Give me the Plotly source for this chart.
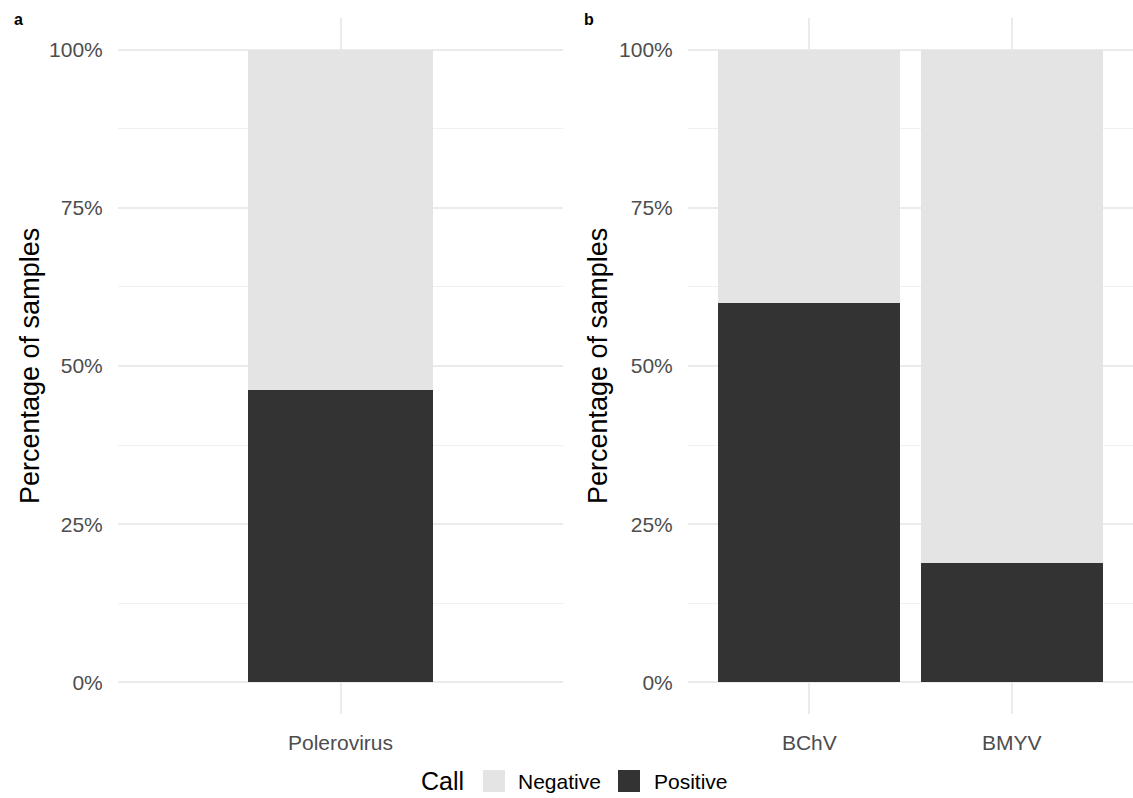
import plotly.graph_objects as go

# Panel a: pooled genus
genus_labels = ["Polerovirus"]
genus_positive = [46.2]

# Panel b: individual viruses
virus_labels = ["BChV", "BMYV"]
virus_positive = [60.0, 18.9]

call_levels = ["Negative", "Positive"]
call_colors = {"Negative": "#e4e4e4", "Positive": "#333333"}
y_ticks = [0, 25, 50, 75, 100]
y_tick_text = ["0%", "25%", "50%", "75%", "100%"]

W, H = 1133, 798
FONT = "Liberation Sans, Arial, sans-serif"
TICK_GREY = "#4d4d4d"
GRID = "#ebebeb"

fig = go.Figure()


def add_panel(labels, positive, xaxis, yaxis, width):
    negative = [100 - p for p in positive]
    fig.add_trace(go.Bar(x=labels, y=positive, name="Positive", width=width,
                         marker=dict(color=call_colors["Positive"], line=dict(width=0)),
                         xaxis=xaxis, yaxis=yaxis, showlegend=False))
    fig.add_trace(go.Bar(x=labels, y=negative, name="Negative", width=width,
                         marker=dict(color=call_colors["Negative"], line=dict(width=0)),
                         xaxis=xaxis, yaxis=yaxis, showlegend=False))


add_panel(genus_labels, genus_positive, "x", "y", 0.5)
add_panel(virus_labels, virus_positive, "x2", "y2", 0.9)

y_dom = [1 - 714 / H, 1 - 18 / H]

yaxis_common = dict(
    range=[-5, 105], tickvals=y_ticks, ticktext=y_tick_text,
    showgrid=True, gridcolor=GRID, gridwidth=2.2, zeroline=False,
    ticks="outside", ticklen=10, tickcolor="rgba(0,0,0,0)",
    tickfont=dict(family=FONT, size=21, color=TICK_GREY),
    minor=dict(tickvals=[12.5, 37.5, 62.5, 87.5], showgrid=True,
               gridcolor="#f0f0f0", gridwidth=1.2, ticks=""),
    showline=False, fixedrange=True,
)
xaxis_common = dict(
    showgrid=True, gridcolor=GRID, gridwidth=2.2, zeroline=False,
    ticks="outside", ticklen=10, tickcolor="rgba(0,0,0,0)",
    tickfont=dict(family=FONT, size=21, color=TICK_GREY),
    showline=False, fixedrange=True, type="category",
)

fig.update_layout(
    width=W, height=H,
    margin=dict(l=0, r=0, t=0, b=0),
    paper_bgcolor="white", plot_bgcolor="white",
    barmode="stack", bargap=0,
    font=dict(family=FONT),
    xaxis=dict(domain=[118 / W, 563 / W], range=[-0.6, 0.6], anchor="y", **xaxis_common),
    yaxis=dict(domain=y_dom, anchor="x", **yaxis_common),
    xaxis2=dict(domain=[688 / W, 1.0], range=[-0.6, 1.6], anchor="y2", **xaxis_common),
    yaxis2=dict(domain=y_dom, anchor="x2", **yaxis_common),
    showlegend=False,
)

annotations = []
# y-axis titles
for xc in (30 / W, 598 / W):
    annotations.append(dict(text="Percentage of samples", x=xc, y=(y_dom[0] + y_dom[1]) / 2,
                            xref="paper", yref="paper", textangle=-90, showarrow=False,
                            xanchor="center", yanchor="middle",
                            font=dict(family=FONT, size=27, color="black")))
# panel tags
for tag, xp in (("a", 12 / W), ("b", 582 / W)):
    annotations.append(dict(text="<b>%s</b>" % tag, x=xp, y=1 - 19 / H, xref="paper", yref="paper",
                            showarrow=False, xanchor="left", yanchor="middle",
                            font=dict(family=FONT, size=16, color="black")))

# legend drawn as keys + labels beneath the panels
leg_c = 781
leg_y = 1 - leg_c / H
annotations.append(dict(text="Call", x=420 / W, y=leg_y, xref="paper", yref="paper", showarrow=False,
                        xanchor="left", yanchor="middle", borderpad=0,
                        font=dict(family=FONT, size=25, color="black")))
key_left = {"Negative": 483, "Positive": 618}
label_left = {"Negative": 517, "Positive": 653}
shapes = []
for lvl in call_levels:
    x0 = key_left[lvl]
    shapes.append(dict(type="rect", xref="paper", yref="paper",
                       x0=x0 / W, x1=(x0 + 22) / W, y0=1 - (leg_c + 11) / H, y1=1 - (leg_c - 11) / H,
                       fillcolor=call_colors[lvl], line=dict(width=0)))
    annotations.append(dict(text=lvl, x=label_left[lvl] / W, y=leg_y, xref="paper", yref="paper",
                            showarrow=False, xanchor="left", yanchor="middle", borderpad=0,
                            font=dict(family=FONT, size=21, color="black")))

fig.update_layout(annotations=annotations, shapes=shapes)
fig.write_html("out.html")
